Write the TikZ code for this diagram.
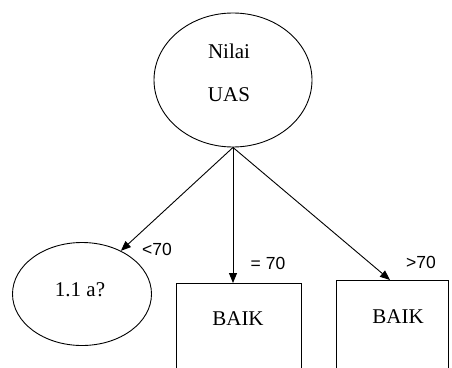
\documentclass[tikz,border=0pt]{standalone}
\usepackage{fontspec}
\setmainfont{Liberation Serif}
\newfontfamily\labfont{Liberation Sans}
\usetikzlibrary{shapes.geometric,arrows.meta}
\begin{document}
\begin{tikzpicture}[x=1pt,y=-1pt,
  line width=0.9pt,
  oval/.style={draw,ellipse,inner sep=0pt},
  boxnode/.style={draw,rectangle,inner sep=0pt},
  txt/.style={font=\fontsize{21}{22}\selectfont,inner sep=0pt},
  lab/.style={font=\labfont\fontsize{17.5}{20}\selectfont,inner sep=0pt},
  arr/.style={-{Triangle[length=10pt,width=8pt]}}]
\useasboundingbox (0,0) rectangle (452,367);
\clip (0,0) rectangle (452,367);
\node[oval,minimum width=158pt,minimum height=134pt] (top) at (233,80) {};
\node[txt] (t1) at (229,51) {Nilai};
\node[txt] (t2) at (229,95) {UAS};
\node[oval,minimum width=139pt,minimum height=103pt] (e1) at (82,294) {};
\node[txt] (t3) at (80,290) {1.1 a?};
\node[boxnode,minimum width=125pt,minimum height=120pt,anchor=north] (b1) at (238.5,283) {};
\node[txt] (t4) at (238,319) {BAIK};
\node[boxnode,minimum width=112pt,minimum height=120pt,anchor=north] (b2) at (392,280) {};
\node[txt] (t5) at (398,317) {BAIK};
\coordinate (s) at (top.south);
\draw[arr] (s) -- (e1.48);
\draw[arr] (s) -- (s |- b1.north);
\draw[arr] (s) -- ([xshift=-2pt]b2.north);
\node[lab] (l1) at (157,249) {<70};
\node[lab] (l2) at (268,263) {= 70};
\node[lab] (l3) at (421,262) {>70};
\end{tikzpicture}
\end{document}
